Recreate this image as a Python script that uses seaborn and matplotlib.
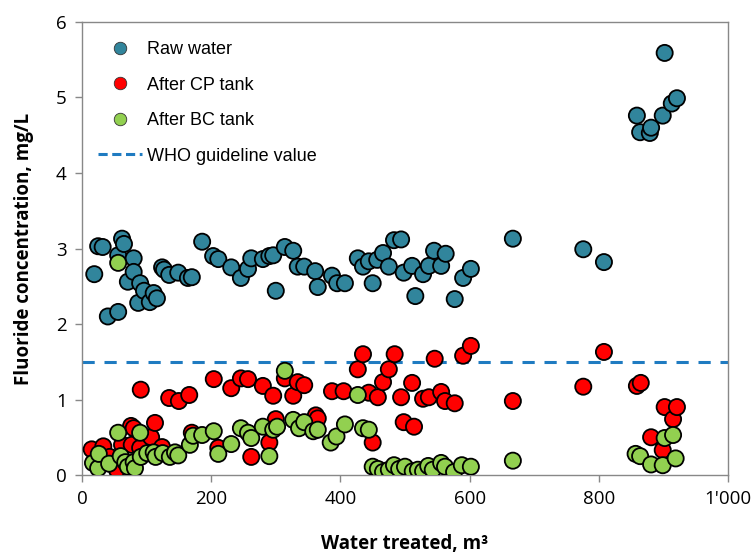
import pandas as pd
import numpy as np
import matplotlib
matplotlib.use("Agg")
import matplotlib.pyplot as plt
import seaborn as sns
from matplotlib.lines import Line2D
from matplotlib.ticker import FuncFormatter

# Data (water treated m3, fluoride mg/L)
raw_x = [19, 25, 32, 40, 56, 56, 62, 65, 71, 80, 80, 87, 90, 96, 105, 111, 116, 124, 127, 135,
         149, 164, 170, 186, 203, 211, 231, 246, 257, 262, 280, 290, 296, 300, 314, 327, 334, 344,
         361, 365, 387, 395, 407, 427, 435, 444, 450, 457, 466, 475, 483, 494, 498, 511, 516, 528,
         537, 545, 556, 563, 577, 590, 602, 667, 776, 808, 859, 864, 879, 881, 899, 902, 913, 921]
raw_y = [2.66, 3.03, 3.02, 2.10, 2.16, 2.91, 3.13, 3.06, 2.56, 2.87, 2.69, 2.28, 2.54, 2.44, 2.29,
         2.41, 2.34, 2.75, 2.72, 2.65, 2.68, 2.61, 2.62, 3.09, 2.90, 2.86, 2.75, 2.61, 2.73, 2.87,
         2.86, 2.90, 2.91, 2.44, 3.02, 2.97, 2.76, 2.76, 2.70, 2.49, 2.64, 2.54, 2.54, 2.87, 2.76,
         2.83, 2.54, 2.85, 2.94, 2.76, 3.11, 3.12, 2.68, 2.77, 2.37, 2.66, 2.77, 2.97, 2.77, 2.93,
         2.33, 2.61, 2.73, 3.13, 2.99, 2.82, 4.76, 4.54, 4.53, 4.60, 4.76, 5.59, 4.92, 4.99]

cp_x = [15, 33, 43, 54, 62, 76, 77, 80, 90, 91, 107, 113, 124, 135, 150, 166, 170, 204, 211, 231,
        246, 257, 262, 280, 290, 296, 300, 314, 327, 334, 344, 362, 365, 387, 405, 427, 435, 444,
        450, 458, 466, 475, 484, 494, 498, 511, 514, 528, 537, 546, 556, 562, 577, 590, 602, 667,
        776, 808, 859, 865, 881, 899, 902, 915, 921]
cp_y = [0.34, 0.38, 0.24, 0.07, 0.40, 0.65, 0.40, 0.62, 0.36, 1.13, 0.50, 0.69, 0.37, 1.02, 0.98,
        1.06, 0.56, 1.27, 0.36, 1.15, 1.28, 1.27, 0.24, 1.18, 0.43, 1.05, 0.74, 1.28, 1.05, 1.23,
        1.19, 0.79, 0.75, 1.11, 1.11, 1.40, 1.60, 1.09, 0.43, 1.03, 1.23, 1.40, 1.60, 1.03, 0.70,
        1.22, 0.64, 1.01, 1.03, 1.54, 1.10, 0.98, 0.95, 1.58, 1.71, 0.98, 1.17, 1.63, 1.18, 1.22,
        0.50, 0.33, 0.90, 0.74, 0.90]

bc_x = [17, 25, 26, 42, 56, 56, 60, 67, 71, 80, 82, 90, 91, 101, 111, 114, 125, 136, 144, 149,
        167, 172, 186, 204, 211, 231, 246, 257, 262, 280, 290, 296, 302, 314, 327, 336, 344, 358,
        365, 385, 394, 407, 427, 435, 444, 450, 458, 466, 475, 483, 491, 500, 512, 520, 528, 536,
        543, 556, 562, 576, 588, 602, 667, 857, 864, 881, 899, 902, 915, 919]
bc_y = [0.16, 0.09, 0.28, 0.15, 0.56, 2.81, 0.25, 0.17, 0.11, 0.17, 0.09, 0.56, 0.24, 0.29, 0.30,
        0.24, 0.29, 0.24, 0.30, 0.26, 0.40, 0.52, 0.53, 0.58, 0.28, 0.41, 0.62, 0.56, 0.49, 0.64,
        0.25, 0.60, 0.64, 1.38, 0.73, 0.62, 0.70, 0.58, 0.60, 0.43, 0.51, 0.67, 1.06, 0.62, 0.60,
        0.11, 0.08, 0.04, 0.07, 0.13, 0.08, 0.11, 0.05, 0.07, 0.05, 0.12, 0.07, 0.16, 0.11, 0.04,
        0.13, 0.11, 0.19, 0.28, 0.25, 0.14, 0.13, 0.49, 0.53, 0.22]

who_value = 1.5
series_names = ["Raw water", "After CP tank", "After BC tank"]
colors = ["#31859C", "#FF0000", "#92D050"]

df = pd.concat([
    pd.DataFrame({"x": raw_x, "y": raw_y, "kind": series_names[0]}),
    pd.DataFrame({"x": cp_x, "y": cp_y, "kind": series_names[1]}),
    pd.DataFrame({"x": bc_x, "y": bc_y, "kind": series_names[2]}),
])

sns.set_style("white")
plt.rcParams['font.family'] = ['Liberation Sans', 'DejaVu Sans']
label_font = ['Open Sans', 'DejaVu Sans']

fig = plt.figure(figsize=(7.55, 5.55), dpi=100)
ax = fig.add_axes([0.1086, 0.1441, 0.8556, 0.8163])

ax.axhline(who_value, color="#1F7BC1", linestyle=(0, (4, 3.2)), linewidth=2.2, zorder=1)
sns.scatterplot(data=df, x="x", y="y", hue="kind", hue_order=series_names,
                palette=colors, s=135, edgecolor="black", linewidth=1.3,
                legend=False, ax=ax, zorder=3)

ax.set_xlim(0, 1000)
ax.set_ylim(0, 6)
ax.set_xticks(range(0, 1001, 200))
ax.set_yticks(range(0, 7))
ax.xaxis.set_major_formatter(FuncFormatter(lambda v, p: f"{int(v):,}".replace(",", "'")))
ax.tick_params(axis="both", labelsize=13.5, direction="out", length=5, width=1,
               color="#888888", labelcolor="black", pad=6, bottom=True, left=True)
for lbl in ax.get_xticklabels() + ax.get_yticklabels():
    lbl.set_family(label_font)
for sp in ax.spines.values():
    sp.set_color("#888888")
    sp.set_linewidth(1)

ax.set_xlabel("Water treated, m³", fontsize=13.5, fontweight="bold", labelpad=18.5,
              color="black", family=label_font)
ax.set_ylabel("Fluoride concentration, mg/L", fontsize=13.5, fontweight="bold", labelpad=16,
              color="black", family=label_font)

handles = [Line2D([0], [0], marker="o", color="w", markerfacecolor=c, markeredgecolor="#333333",
                  markeredgewidth=0.6, markersize=9, label=n) for n, c in zip(series_names, colors)]
handles.append(Line2D([0], [0], color="#1F7BC1", linestyle=(0, (3, 1.5)), linewidth=2.2,
                      label="WHO guideline value"))
ax.legend(handles=handles, loc="upper left", frameon=False, fontsize=13, labelcolor="black",
          labelspacing=1.02, handlelength=2.4, handletextpad=0.3,
          bbox_to_anchor=(0.0, 0.993), borderaxespad=0.5)

fig.savefig("out.png", dpi=100)
